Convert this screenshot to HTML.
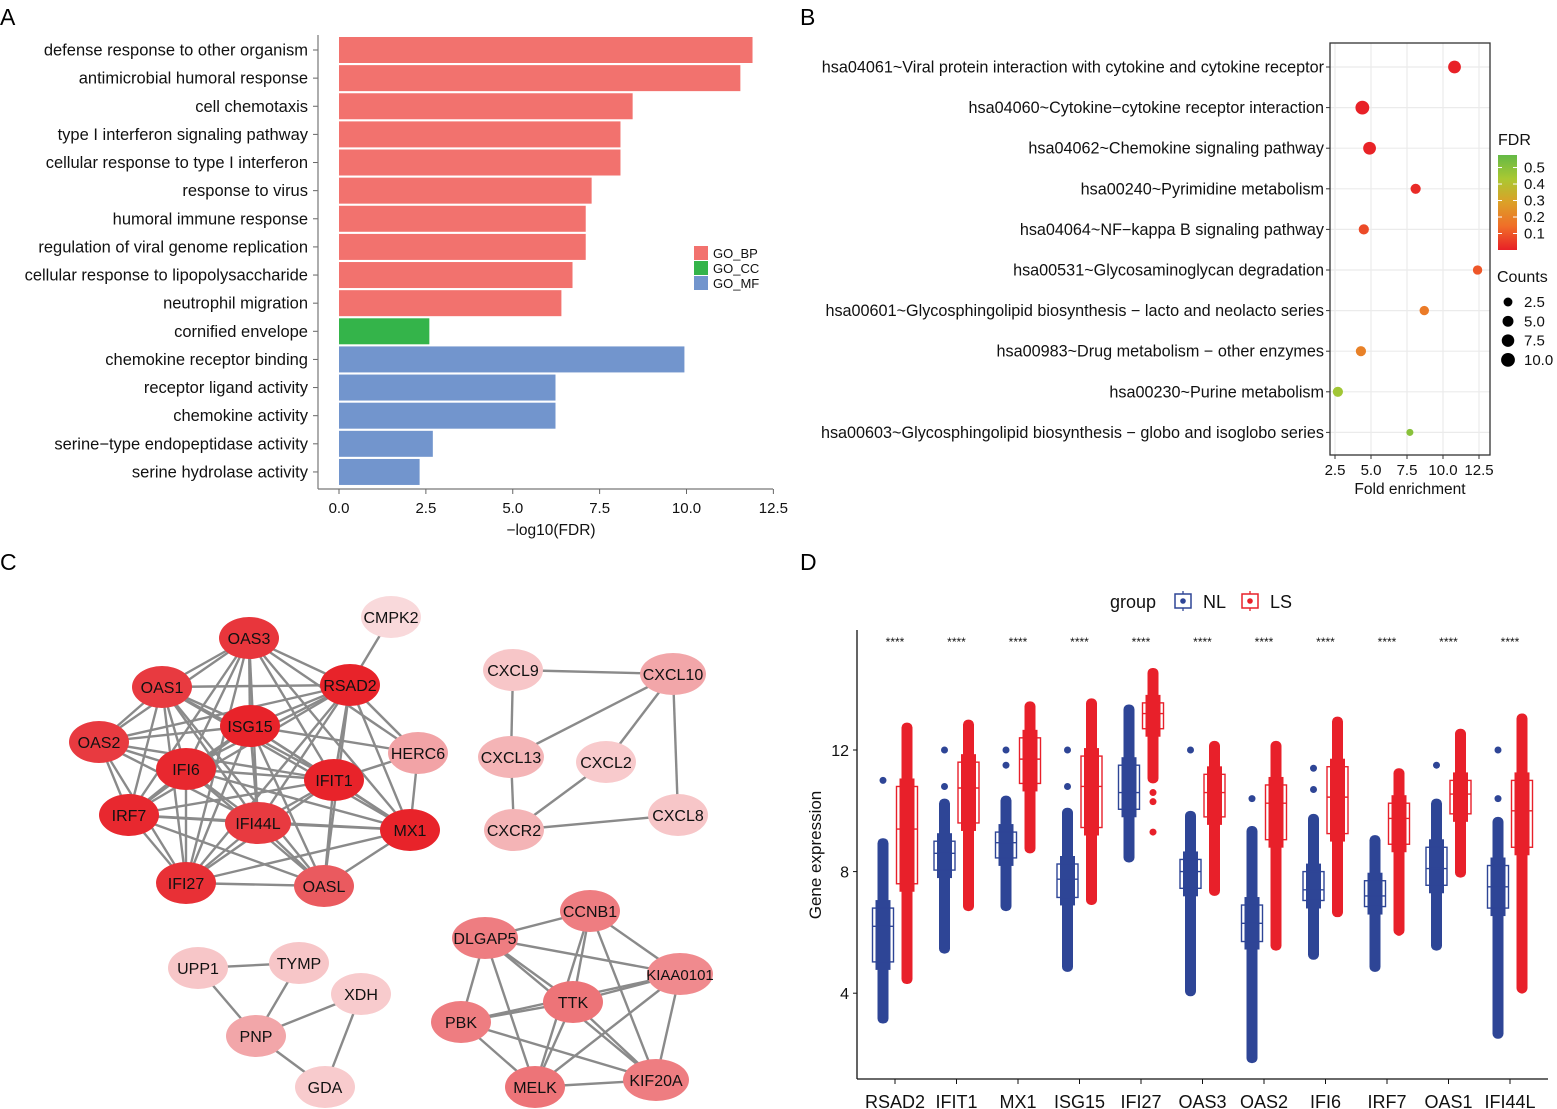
<!DOCTYPE html>
<html><head><meta charset="utf-8">
<style>
html,body{margin:0;padding:0;background:#fff;}
svg{display:block;font-family:"Liberation Sans",Arial,sans-serif;}
</style></head>
<body>
<svg id="fig" width="1557" height="1109" viewBox="0 0 1557 1109" xmlns="http://www.w3.org/2000/svg">
<g font-size="23" fill="#000">
<text x="0" y="25">A</text>
<text x="800" y="25">B</text>
<text x="0" y="570">C</text>
<text x="800" y="570">D</text>
</g>
<g id="pa"></g>
<g id="pb"></g>
<g id="pc"></g>
<g id="pd"></g>
</svg>
<script>
// ---------- Panel A data ----------
const goTerms = ["defense response to other organism","antimicrobial humoral response","cell chemotaxis","type I interferon signaling pathway","cellular response to type I interferon","response to virus","humoral immune response","regulation of viral genome replication","cellular response to lipopolysaccharide","neutrophil migration","cornified envelope","chemokine receptor binding","receptor ligand activity","chemokine activity","serine\u2212type endopeptidase activity","serine hydrolase activity"];
const goValues = [11.9,11.55,8.45,8.1,8.1,7.27,7.1,7.1,6.72,6.4,2.6,9.94,6.23,6.23,2.7,2.32];
const goCats = ["BP","BP","BP","BP","BP","BP","BP","BP","BP","BP","CC","MF","MF","MF","MF","MF"];
const goXTicks = [0,2.5,5,7.5,10,12.5];
const goXTickLabels = ["0.0","2.5","5.0","7.5","10.0","12.5"];
// ---------- Panel B data ----------
const keggTerms = ["hsa04061~Viral protein interaction with cytokine and cytokine receptor","hsa04060~Cytokine\u2212cytokine receptor interaction","hsa04062~Chemokine signaling pathway","hsa00240~Pyrimidine metabolism","hsa04064~NF\u2212kappa B signaling pathway","hsa00531~Glycosaminoglycan degradation","hsa00601~Glycosphingolipid biosynthesis \u2212 lacto and neolacto series","hsa00983~Drug metabolism \u2212 other enzymes","hsa00230~Purine metabolism","hsa00603~Glycosphingolipid biosynthesis \u2212 globo and isoglobo series"];
const keggFold = [10.8,4.4,4.9,8.1,4.5,12.4,8.7,4.3,2.7,7.7];
const keggFDR = [0.002,0.002,0.005,0.02,0.08,0.1,0.18,0.2,0.45,0.5];
const keggCounts = [8,10,8,4,4,3,3,4,4,1];
const keggXTicks = [2.5,5,7.5,10,12.5];
const keggXTickLabels = ["2.5","5.0","7.5","10.0","12.5"];
const fdrTicks = [0.1,0.2,0.3,0.4,0.5];
const countTicks = [2.5,5,7.5,10];
// ---------- Panel D data ----------
const genes = ["RSAD2","IFIT1","MX1","ISG15","IFI27","OAS3","OAS2","IFI6","IRF7","OAS1","IFI44L"];
const nlQ1 = [5.03,8.05,8.45,7.15,10.05,7.45,5.7,7.05,6.85,7.55,6.8];
const nlMed = [6.2,8.6,8.95,7.75,10.6,8.0,6.3,7.4,7.2,8.1,7.5];
const nlQ3 = [6.8,9.0,9.3,8.25,11.5,8.4,6.9,8.0,7.7,8.8,8.2];
const nlMin = [3.1,5.4,6.8,4.8,8.4,4.0,1.8,5.2,4.8,5.5,2.6];
const nlMax = [9.0,10.3,10.4,10.0,13.4,9.9,9.4,9.8,9.1,10.3,9.7];
const nlOut = [[11.0],[10.8,12.0],[11.5,12.0],[10.8,12.0],[],[12.0],[10.4],[10.7,11.4],[],[11.5],[10.4,12.0]];
const lsQ1 = [7.6,9.6,10.9,9.45,12.7,9.8,9.05,9.25,8.9,9.9,8.8];
const lsMed = [9.4,10.75,11.7,10.8,13.2,10.6,10.25,10.45,9.75,10.55,10.0];
const lsQ3 = [10.8,11.6,12.4,11.8,13.55,11.2,10.85,11.45,10.25,11.0,11.0];
const lsMin = [4.4,6.8,8.7,7.0,11.0,7.3,5.5,6.6,6.0,7.9,4.1];
const lsMax = [12.8,12.9,13.5,13.6,14.6,12.2,12.2,13.0,11.3,12.6,13.1];
const lsOut = [[],[],[],[],[9.3,10.3,10.6],[],[],[],[6.0],[],[4.1]];
const yTicksD = [4,8,12];

const NS = "http://www.w3.org/2000/svg";
function mk(parent, tag, attrs, text){
  const e = document.createElementNS(NS, tag);
  for (const k in attrs) e.setAttribute(k, attrs[k]);
  if (text !== undefined) e.textContent = text;
  parent.appendChild(e);
  return e;
}

// ===== Panel A =====
(function(){
  const g = document.getElementById('pa');
  const x0 = 339, pxPer = 34.75, rowY0 = 50, rowStep = 28.13, barH = 26;
  const xs = v => x0 + v*pxPer;
  const ys = i => rowY0 + i*rowStep;
  const col = {BP:"#f2726e", CC:"#34b44a", MF:"#7295cd"};
  goTerms.forEach((t,i)=>{
    const r = mk(g,'rect',{x:xs(0),y:ys(i)-barH/2,width:xs(goValues[i])-xs(0),height:barH,fill:col[goCats[i]]});
    
    
    const l = mk(g,'text',{x:308,y:ys(i)+5.5,'text-anchor':'end','font-size':16.5,fill:'#111'},t);
    
    
    mk(g,'line',{x1:313,x2:318,y1:ys(i),y2:ys(i),stroke:'#666'});
  });
  mk(g,'line',{x1:318,x2:318,y1:35,y2:489,stroke:'#777','stroke-width':1.2});
  mk(g,'line',{x1:318,x2:773,y1:489,y2:489,stroke:'#777','stroke-width':1.2});
  goXTicks.forEach((v,i)=>{
    mk(g,'line',{x1:xs(v),x2:xs(v),y1:489,y2:494,stroke:'#666'});
    const t = mk(g,'text',{x:xs(v),y:513,'text-anchor':'middle','font-size':15,fill:'#111'},goXTickLabels[i]);
    
    
  });
  const xt = mk(g,'text',{x:551,y:535,'text-anchor':'middle','font-size':15.5,fill:'#111'},'\u2212log10(FDR)');
  
  
  [["GO_BP","BP"],["GO_CC","CC"],["GO_MF","MF"]].forEach((p,i)=>{
    const lg = mk(g,'g',{});
    
    
    mk(lg,'rect',{x:694,y:246+i*15,width:14,height:14,fill:col[p[1]]});
    mk(lg,'text',{x:713,y:258+i*15,'font-size':13,fill:'#111'},p[0]);
  });
})();

// ===== Panel B =====
(function(){
  const g = document.getElementById('pb');
  const L=1330,R=1490,T=43,B=455;
  const xs = v => 1335 + (v-2.5)*14.4;
  const ys = i => 67 + i*40.6;
  const rs = c => 2 + Math.sqrt(c)*1.55;
  function fdrColor(f){
    const t = Math.min(f/0.576,1);
    const stops=[[0,[232,32,39]],[0.25,[240,110,40]],[0.5,[220,160,40]],[0.75,[170,200,50]],[1,[100,185,70]]];
    for(let k=0;k<stops.length-1;k++){
      const a=stops[k],b=stops[k+1];
      if(t<=b[0]){const u=(t-a[0])/(b[0]-a[0]);return 'rgb('+a[1].map((c,j)=>Math.round(c+(b[1][j]-c)*u)).join(',')+')';}
    }
    return 'rgb(100,185,70)';
  }
  mk(g,'rect',{x:L,y:T,width:R-L,height:B-T,fill:'#fff'});
  keggXTicks.forEach(v=>mk(g,'line',{x1:xs(v),x2:xs(v),y1:T,y2:B,stroke:'#ebebeb','stroke-width':1.2}));
  keggTerms.forEach((t,i)=>{
    mk(g,'line',{x1:L,x2:R,y1:ys(i),y2:ys(i),stroke:'#ebebeb','stroke-width':1.2});
    mk(g,'line',{x1:L-4,x2:L,y1:ys(i),y2:ys(i),stroke:'#333'});
    const l = mk(g,'text',{x:1324,y:ys(i)+5.5,'text-anchor':'end','font-size':16.2,fill:'#111'},t);
    
    
  });
  keggTerms.forEach((t,i)=>{
    const c = mk(g,'circle',{cx:xs(keggFold[i]),cy:ys(i),r:rs(keggCounts[i]),fill:fdrColor(keggFDR[i])});
    
    
  });
  mk(g,'rect',{x:L,y:T,width:R-L,height:B-T,fill:'none',stroke:'#333','stroke-width':1.3});
  keggXTicks.forEach((v,i)=>{
    mk(g,'line',{x1:xs(v),x2:xs(v),y1:B,y2:B+4,stroke:'#333'});
    const t = mk(g,'text',{x:xs(v),y:475,'text-anchor':'middle','font-size':15,fill:'#111'},keggXTickLabels[i]);
    
    
  });
  const xt = mk(g,'text',{x:1410,y:494,'text-anchor':'middle','font-size':15.5,fill:'#111'},'Fold enrichment');
  
  
  const leg = mk(g,'g',{});
  
  
  mk(leg,'text',{x:1498,y:145,'font-size':16,fill:'#111'},'FDR');
  const defs = mk(g,'defs',{});
  const lgd = mk(defs,'linearGradient',{id:'fdrg',x1:0,y1:1,x2:0,y2:0});
  [0,0.25,0.5,0.75,1].forEach(s=>mk(lgd,'stop',{offset:s,'stop-color':fdrColor(s*0.576)}));
  const cbT=155, cbB=250;
  mk(leg,'rect',{x:1498,y:cbT,width:19,height:cbB-cbT,fill:'url(#fdrg)'});
  fdrTicks.forEach(v=>{
    const y = cbB - v/0.576*(cbB-cbT);
    mk(leg,'line',{x1:1498,x2:1502,y1:y,y2:y,stroke:'#fff'});
    mk(leg,'line',{x1:1513,x2:1517,y1:y,y2:y,stroke:'#fff'});
    mk(leg,'text',{x:1524,y:y+5,'font-size':15,fill:'#111'},v.toFixed(1));
  });
  const cl = mk(g,'g',{});
  
  
  mk(cl,'text',{x:1497,y:282,'font-size':16,fill:'#111'},'Counts');
  countTicks.forEach((v,i)=>{
    const y = 302+i*19.3;
    mk(cl,'circle',{cx:1508,cy:y,r:rs(v),fill:'#000'});
    mk(cl,'text',{x:1524,y:y+5,'font-size':15,fill:'#111'},v.toFixed(1));
  });
})();

// ===== Panel C (network) =====
(function(){
  const g = document.getElementById('pc');
  const nodes = {
    OAS3:[249,638,'#e8363c'],CMPK2:[391,617,'#f9d9db'],OAS1:[162,687,'#e83a40'],RSAD2:[350,685,'#e8232a'],
    ISG15:[250,726,'#e8232a'],OAS2:[99,742,'#e83a40'],HERC6:[418,753,'#f2a3a6'],IFI6:[186,769,'#e8282f'],
    IFIT1:[334,780,'#e8232a'],IRF7:[129,815,'#e8282f'],IFI44L:[258,823,'#e83a40'],MX1:[410,830,'#e8232a'],
    IFI27:[186,883,'#e83036'],OASL:[324,886,'#ea5a5f'],
    CXCL9:[513,670,'#f7c6c8'],CXCL10:[673,674,'#f2a6a9'],CXCL13:[511,757,'#f4b4b6'],CXCL2:[606,762,'#f8cacc'],
    CXCR2:[514,830,'#f4b4b6'],CXCL8:[678,815,'#f7c6c8'],
    UPP1:[198,968,'#f7c6c8'],TYMP:[299,963,'#f7c6c8'],XDH:[361,994,'#f8cbcd'],PNP:[256,1036,'#f2a6a9'],GDA:[325,1087,'#f8cbcd'],
    CCNB1:[590,911,'#ee7d81'],DLGAP5:[485,938,'#ee7d81'],KIAA0101:[680,974,'#f08a8e'],TTK:[573,1002,'#ed7478'],
    PBK:[461,1022,'#ee7d81'],MELK:[535,1087,'#ed7478'],KIF20A:[656,1080,'#ee7d81']
  };
  const core = ["OAS3","OAS1","RSAD2","ISG15","OAS2","IFI6","IFIT1","IRF7","IFI44L","MX1","IFI27","OASL"];
  const edges = [];
  for(let i=0;i<core.length;i++)for(let j=i+1;j<core.length;j++){
    const a=core[i],b=core[j];
    if((a==="OAS2"&&b==="MX1")||(a==="OAS3"&&b==="OASL")||(a==="OAS2"&&b==="OASL"))continue;
    edges.push([a,b]);
  }
  edges.push(["CMPK2","RSAD2"],["HERC6","RSAD2"],["HERC6","ISG15"],["HERC6","IFIT1"],["HERC6","MX1"],["HERC6","OAS3"]);
  edges.push(["CXCL9","CXCL10"],["CXCL9","CXCL13"],["CXCL13","CXCL10"],["CXCL13","CXCR2"],["CXCL10","CXCL2"],["CXCL10","CXCL8"],["CXCL2","CXCR2"],["CXCR2","CXCL8"]);
  edges.push(["UPP1","TYMP"],["UPP1","PNP"],["TYMP","PNP"],["PNP","XDH"],["PNP","GDA"],["XDH","GDA"]);
  const bc=["CCNB1","DLGAP5","KIAA0101","TTK","PBK","MELK","KIF20A"];
  for(let i=0;i<bc.length;i++)for(let j=i+1;j<bc.length;j++){
    const a=bc[i],b=bc[j];
    if((a==="CCNB1"&&b==="PBK")||(a==="PBK"&&b==="KIAA0101"))continue;
    edges.push([a,b]);
  }
  const eg = mk(g,'g',{stroke:'#8a8a8a','stroke-width':2.4});
  
  
  edges.forEach(e=>{
    const a=nodes[e[0]],b=nodes[e[1]];
    mk(eg,'line',{x1:a[0],y1:a[1],x2:b[0],y2:b[1]});
  });
  for(const k in nodes){
    const n=nodes[k];
    const ng = mk(g,'g',{});
    
    
    const rx = k.length>5?33:30;
    mk(ng,'ellipse',{cx:n[0],cy:n[1],rx:rx,ry:21,fill:n[2]});
    mk(ng,'text',{x:n[0],y:n[1]+6,'text-anchor':'middle','font-size':k.length>6?15:16,fill:'#111'},k);
  }
})();

// ===== Panel D (boxplot) =====
(function(){
  const g = document.getElementById('pd');
  const axL=857, axB=1079, axT=630, axR=1548;
  const ys = v => 750 - (v-12)*30.4;
  const xc = i => 895 + i*61.5;
  const blue='#2e4596', red='#e8202a', bw=21;
  const stripW=15;
  function group(i,off,q1,med,q3,mn,mx,outs,col,nm){
    const gg = mk(g,'g',{});
    
    
    const cx = xc(i)+off;
    mk(gg,'line',{x1:cx,x2:cx,y1:ys(mn),y2:ys(mx),stroke:col,'stroke-width':1.3});
    mk(gg,'rect',{x:cx-stripW/2,y:ys(q3)-8,width:stripW,height:ys(q1)-ys(q3)+16,fill:col});
    mk(gg,'rect',{x:cx-5.5,y:ys(mx)-3,width:11,height:ys(mn)-ys(mx)+6,rx:5,fill:col});
    outs.forEach(o=>mk(gg,'circle',{cx:cx,cy:ys(o),r:3.5,fill:col}));
    mk(gg,'rect',{x:cx-bw/2,y:ys(q3),width:bw,height:ys(q1)-ys(q3),fill:'none',stroke:col,'stroke-width':1.4});
    mk(gg,'line',{x1:cx-bw/2,x2:cx+bw/2,y1:ys(med),y2:ys(med),stroke:col,'stroke-width':1.4});
  }
  genes.forEach((gn,i)=>{
    group(i,-12,nlQ1[i],nlMed[i],nlQ3[i],nlMin[i],nlMax[i],nlOut[i],blue,'nl');
    group(i,12,lsQ1[i],lsMed[i],lsQ3[i],lsMin[i],lsMax[i],lsOut[i],red,'ls');
    const s = mk(g,'text',{x:xc(i),y:646,'text-anchor':'middle','font-size':12,fill:'#111'},'****');
    
    
    mk(g,'line',{x1:xc(i),x2:xc(i),y1:axB,y2:axB+5,stroke:'#111'});
    const t = mk(g,'text',{x:xc(i),y:1108,'text-anchor':'middle','font-size':18,fill:'#111'},gn);
    
    
  });
  mk(g,'line',{x1:axL,x2:axL,y1:axT,y2:axB,stroke:'#111','stroke-width':1.3});
  mk(g,'line',{x1:axL,x2:axR,y1:axB,y2:axB,stroke:'#111','stroke-width':1.3});
  yTicksD.forEach(v=>{
    mk(g,'line',{x1:axL-4,x2:axL,y1:ys(v),y2:ys(v),stroke:'#111'});
    const t = mk(g,'text',{x:axL-8,y:ys(v)+6,'text-anchor':'end','font-size':16,fill:'#111'},String(v));
    
    
  });
  const yt = mk(g,'text',{x:0,y:0,transform:'translate(821,855) rotate(-90)','text-anchor':'middle','font-size':17,fill:'#111'},'Gene expression');
  
  
  const lg = mk(g,'g',{});
  
  
  mk(lg,'text',{x:1110,y:608,'font-size':18,fill:'#111'},'group');
  [[1183,blue,'NL'],[1250,red,'LS']].forEach(p=>{
    mk(lg,'line',{x1:p[0],x2:p[0],y1:591,y2:611,stroke:p[1],'stroke-width':1.3});
    mk(lg,'rect',{x:p[0]-8,y:594,width:16,height:14,fill:'#fff',stroke:p[1],'stroke-width':1.5});
    mk(lg,'circle',{cx:p[0],cy:601,r:2.8,fill:p[1]});
    mk(lg,'text',{x:p[0]+20,y:608,'font-size':18,fill:'#111'},p[2]);
  });
})();
</script>
</body></html>
